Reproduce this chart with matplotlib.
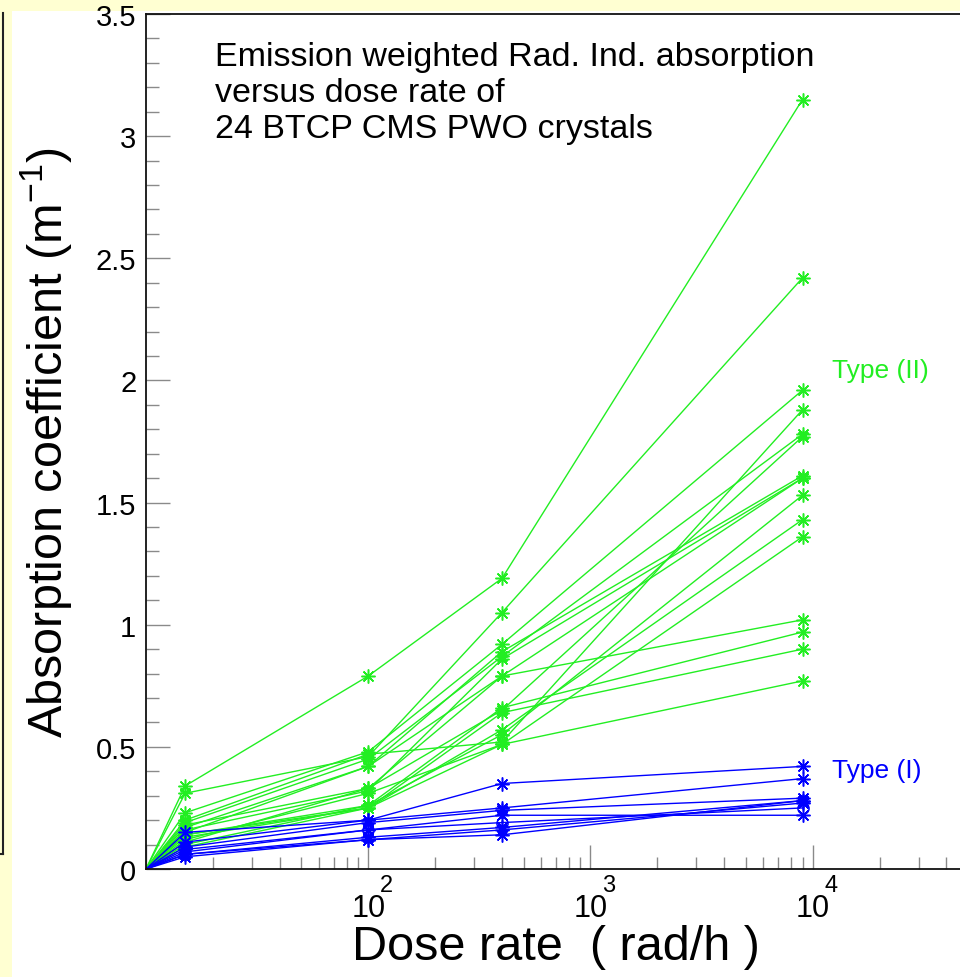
import numpy as np
import matplotlib
matplotlib.use("Agg")
import matplotlib.pyplot as plt
from matplotlib.lines import Line2D

plt.rcParams['font.family'] = ['Liberation Sans', 'DejaVu Sans']
plt.rcParams['mathtext.fontset'] = 'custom'
plt.rcParams['mathtext.rm'] = 'Liberation Sans'

# dose rates (rad/h); first point is the origin of every curve
dose = [10, 15, 100, 400, 9000]

# Type (II) crystals, absorption coefficient (1/m)
type2 = [
    [0, 0.34, 0.79, 1.19, 3.15],
    [0, 0.31, 0.46, 1.05, 2.42],
    [0, 0.23, 0.48, 0.92, 1.96],
    [0, 0.20, 0.47, 0.52, 1.88],
    [0, 0.19, 0.45, 0.87, 1.78],
    [0, 0.18, 0.33, 0.65, 1.77],
    [0, 0.17, 0.42, 0.89, 1.61],
    [0, 0.16, 0.32, 0.86, 1.60],
    [0, 0.15, 0.42, 0.79, 1.60],
    [0, 0.14, 0.26, 0.55, 1.53],
    [0, 0.13, 0.25, 0.57, 1.43],
    [0, 0.12, 0.31, 0.51, 1.36],
    [0, 0.11, 0.33, 0.79, 1.02],
    [0, 0.10, 0.26, 0.66, 0.97],
    [0, 0.09, 0.25, 0.64, 0.90],
    [0, 0.14, 0.25, 0.51, 0.77],
]

# Type (I) crystals
type1 = [
    [0, 0.15, 0.20, 0.35, 0.42],
    [0, 0.11, 0.20, 0.25, 0.37],
    [0, 0.09, 0.19, 0.24, 0.29],
    [0, 0.08, 0.16, 0.22, 0.22],
    [0, 0.07, 0.16, 0.19, 0.25],
    [0, 0.06, 0.13, 0.17, 0.28],
    [0, 0.06, 0.12, 0.16, 0.27],
    [0, 0.05, 0.12, 0.14, 0.28],
]
type1_circle = 4  # this one is drawn with open circles

title_lines = ["Emission weighted Rad. Ind. absorption",
               "versus dose rate of",
               "24 BTCP CMS PWO crystals"]
decades = [2, 3, 4]

GREEN = '#22ee22'
BLUE = '#0000ff'
YELLOW = '#ffffd2'

W, H = 960, 978
fig = plt.figure(figsize=(W / 100, H / 100), dpi=100, facecolor=YELLOW)

# white canvas behind everything + left border bits
bg = fig.add_axes([12 / W, 0, 1 - 12 / W, 1 - 12 / H], zorder=-5)
bg.set_axis_off()
bg.add_patch(plt.Rectangle((0, 0), 1, 1, transform=bg.transAxes, color='white'))
fig.lines.append(Line2D([3 / W, 3 / W], [1 - 14 / H, 1 - 855 / H], transform=fig.transFigure,
                        color='#222222', lw=1.5))
fig.lines.append(Line2D([0, 3 / W], [1 - 855 / H, 1 - 855 / H], transform=fig.transFigure,
                        color='#222222', lw=1.5))

ax = fig.add_axes([146 / W, 1 - 870 / H, 822 / W, 855 / H])
ax.set_facecolor('white')
ax.set_xscale('log')
ax.set_xlim(10, 5e4)
ax.set_ylim(0, 3.5)

star = (8, 2, 0)
for i, row in enumerate(type2):
    ax.plot(dose, row, color=GREEN, lw=1.0, marker=star, ms=10, mew=1.1,
            markevery=[1, 2, 3, 4])
for i, row in enumerate(type1):
    mk = 'o' if i == type1_circle else star
    ax.plot(dose, row, color=BLUE, lw=1.0, marker=mk, ms=8 if mk == 'o' else 10, mew=1.1,
            mfc='none', markevery=[1, 2, 3, 4])

# ticks
ax.set_yticks(np.arange(0, 3.51, 0.5))
ax.set_yticks(np.arange(0, 3.51, 0.1), minor=True)
ax.set_yticklabels(['0', '0.5', '1', '1.5', '2', '2.5', '3', '3.5'])
ax.tick_params(axis='both', which='both', direction='in', color='#8a8a8a', width=1.0)
ax.tick_params(axis='both', which='major', length=17)
ax.tick_params(axis='both', which='minor', length=9)
ax.tick_params(axis='y', labelsize=21, pad=7)
ax.tick_params(axis='x', labelbottom=False)
ax.xaxis.set_minor_formatter(plt.NullFormatter())
for s in ['left', 'bottom', 'top']:
    ax.spines[s].set_linewidth(1.3)
    ax.spines[s].set_color('#111111')

# decade labels in ROOT style: "10" with raised exponent
for d in decades:
    ax.text(10 ** d, -0.16, '10', ha='center', va='center', fontsize=22,
            transform=ax.transData, clip_on=False)
    ax.text(10 ** d * 1.13, -0.065, str(d), ha='left', va='center', fontsize=17,
            transform=ax.transData, clip_on=False)

ax.set_xlabel('Dose rate  ( rad/h )', fontsize=35)
ax.xaxis.set_label_coords((556 - 146) / 822, -(948 - 870) / 855)
ax.xaxis.label.set_va('center')
ax.set_ylabel('Absorption coefficient (m$^{\\mathregular{-1}}$)', fontsize=35)
ax.yaxis.set_label_coords(-(146 - 46) / 822, 0.5)
ax.yaxis.label.set_va('center')

ax.text(215 / W, 1 - 42 / H, '\n'.join(title_lines), transform=fig.transFigure,
        ha='left', va='top', fontsize=24.5, linespacing=1.2)
ax.text(832 / W, 1 - 371 / H, 'Type (II)', transform=fig.transFigure, color=GREEN,
        ha='left', va='center', fontsize=19)
ax.text(832 / W, 1 - 771 / H, 'Type (I)', transform=fig.transFigure, color=BLUE,
        ha='left', va='center', fontsize=19)

fig.savefig('out.png', dpi=100, facecolor=YELLOW)
